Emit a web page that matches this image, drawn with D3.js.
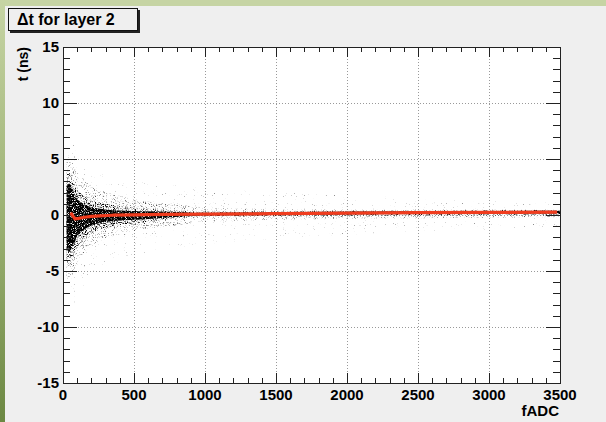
<!DOCTYPE html>
<html>
<head>
<meta charset="utf-8">
<script src="https://cdn.jsdelivr.net/npm/d3@7"></script>
<style>
  body { margin: 0; background: #efefef; }
  svg text { font-family: 'Liberation Sans', Arial, sans-serif; font-weight: bold; fill: #000; }
</style>
</head>
<body>
<svg width="606" height="422"></svg>
<script>
// x / y tick values
var xTicks = [0, 500, 1000, 1500, 2000, 2500, 3000, 3500]
var yTicks = [-15, -10, -5, 0, 5, 10, 15]

// envelope of the fADC vs dt cloud (ns)
var cloudX = [25, 40, 55, 70, 90, 120, 160, 220, 300, 400, 550, 750, 1000, 1400, 1900, 2500, 3000, 3500]
var haloHi = [8, 8, 7.5, 7, 6, 5, 4.5, 4, 3.5, 3.2, 3, 2.7, 2.4, 2.1, 1.8, 1.5, 1.3, 1.2]
var haloLo = [-9, -10, -9.5, -9, -8, -7, -6, -5, -4.5, -4, -3.5, -3, -2.6, -2.2, -1.8, -1.5, -1.3, -1.2]
var fuzzHi = [5, 5.2, 5, 4.5, 4, 3.5, 3, 2.5, 2.1, 1.7, 1.3, 1.0, 0.7, 0.55, 0.5, 0.5, 0.5, 0.5]
var fuzzLo = [-5.5, -6, -5.8, -5.2, -4.5, -3.8, -3.2, -2.6, -2.1, -1.7, -1.3, -1.0, -0.6, -0.45, -0.35, -0.3, -0.25, -0.2]
var midHi = [3.5, 3.8, 3.5, 3.0, 2.5, 2.0, 1.6, 1.25, 1.0, 0.8, 0.6, 0.45, 0.28, 0.31, 0.36, 0.41, 0.43, 0.45]
var midLo = [-4, -4.5, -4.3, -3.8, -3.1, -2.5, -2, -1.5, -1.15, -0.9, -0.7, -0.35, -0.12, -0.09, -0.04, 0.01, 0.03, 0.05]
var coreHi = [2.5, 2.8, 2.6, 2.2, 1.6, 1.2, 0.9, 0.65, 0.5, 0.4, 0.33, 0.3, 0.2, 0.23, 0.28, 0.33, 0.35, 0.37]
var coreLo = [-3, -3.3, -3.1, -2.7, -2.1, -1.6, -1.2, -0.85, -0.62, -0.48, -0.4, -0.2, -0.04, -0.01, 0.04, 0.09, 0.11, 0.13]

// fitted mean (red line)
var fitX = [54, 70, 85, 110, 150, 200, 260, 350, 500, 700, 1000, 1500, 2000, 2500, 3000, 3480]
var fitY = [0.2, -0.1, -0.35, -0.3, -0.2, -0.12, -0.07, -0.02, 0.02, 0.05, 0.08, 0.12, 0.17, 0.21, 0.23, 0.25]

var svg = d3.select('svg')
var padL = 63, padR = 560, padT = 47, padB = 383

var x = d3.scaleLinear().domain([0, 3500]).range([padL, padR])
var y = d3.scaleLinear().domain([-15, 15]).range([padB, padT])

// green page border
var defs = svg.append('defs')
var lg = defs.append('linearGradient').attr('id', 'edge').attr('x1', 0).attr('y1', 0).attr('x2', 0).attr('y2', 1)
lg.append('stop').attr('offset', '0%').attr('stop-color', '#c6d4a4')
lg.append('stop').attr('offset', '50%').attr('stop-color', '#9db274')
lg.append('stop').attr('offset', '100%').attr('stop-color', '#6c8843')
svg.append('rect').attr('width', 606).attr('height', 422).attr('fill', '#efefef')
svg.append('rect').attr('width', 606).attr('height', 6).attr('fill', '#c6d4a4')
svg.append('rect').attr('width', 5).attr('height', 422).attr('fill', 'url(#edge)')

// plot area
svg.append('rect')
  .attr('x', padL).attr('y', padT)
  .attr('width', padR - padL).attr('height', padB - padT)
  .attr('fill', '#fff')

// grid
var grid = svg.append('g').attr('stroke', '#999').attr('stroke-dasharray', '1,2').attr('stroke-width', 1)
grid.selectAll('.gx').data(xTicks.slice(1, -1)).enter().append('line')
  .attr('x1', function (d) { return Math.round(x(d)) + 0.5 }).attr('x2', function (d) { return Math.round(x(d)) + 0.5 })
  .attr('y1', padT).attr('y2', padB)
grid.selectAll('.gy').data(yTicks.slice(1, -1)).enter().append('line')
  .attr('y1', function (d) { return Math.round(y(d)) + 0.5 }).attr('y2', function (d) { return Math.round(y(d)) + 0.5 })
  .attr('x1', padL).attr('x2', padR)

// speckle filters so the cloud looks like scattered entries
var layers = [
  { id: 'halo', hi: haloHi, lo: haloLo, t: 0.7, k: 3.5, seed: 3 },
  { id: 'fuzz', hi: fuzzHi, lo: fuzzLo, t: 0.56, k: 3, seed: 7 },
  { id: 'mid', hi: midHi, lo: midLo, t: 0.5, k: 5, seed: 11 },
  { id: 'core', hi: coreHi, lo: coreLo, t: 0.35, k: 8, seed: 19 }
]
layers.forEach(function (l) {
  var f = defs.append('filter').attr('id', 'sp-' + l.id)
    .attr('filterUnits', 'userSpaceOnUse')
    .attr('x', padL).attr('y', padT).attr('width', padR - padL).attr('height', padB - padT)
  f.append('feTurbulence').attr('type', 'fractalNoise').attr('baseFrequency', 0.9)
    .attr('numOctaves', 1).attr('seed', l.seed).attr('result', 'n')
  f.append('feColorMatrix').attr('in', 'n').attr('type', 'matrix')
    .attr('values', '0 0 0 0 0  0 0 0 0 0  0 0 0 0 0  ' + l.k + ' 0 0 0 ' + (-l.k * l.t))
    .attr('result', 'm')
  f.append('feComposite').attr('in', 'm').attr('in2', 'SourceGraphic').attr('operator', 'in')
})

var cloud = svg.append('g')
layers.forEach(function (l) {
  var area = d3.area()
    .x(function (d, i) { return x(cloudX[i]) })
    .y0(function (d, i) { return y(l.lo[i]) })
    .y1(function (d, i) { return y(l.hi[i]) })
    .curve(d3.curveMonotoneX)
  cloud.append('path')
    .datum(cloudX)
    .attr('d', area)
    .attr('fill', '#000')
    .attr('filter', 'url(#sp-' + l.id + ')')
})

// frame
svg.append('rect')
  .attr('x', padL + 0.5).attr('y', padT + 0.5)
  .attr('width', padR - padL).attr('height', padB - padT)
  .attr('fill', 'none').attr('stroke', '#222')

// ticks
var ticks = svg.append('g').attr('stroke', '#222').attr('stroke-width', 1)
var xMinor = d3.range(0, 3501, 100)
ticks.selectAll('.tb').data(xMinor).enter().append('line')
  .attr('x1', function (d) { return Math.round(x(d)) + 0.5 }).attr('x2', function (d) { return Math.round(x(d)) + 0.5 })
  .attr('y1', padB).attr('y2', function (d) { return padB - (d % 500 === 0 ? 10 : 5) })
ticks.selectAll('.tt').data(xMinor).enter().append('line')
  .attr('x1', function (d) { return Math.round(x(d)) + 0.5 }).attr('x2', function (d) { return Math.round(x(d)) + 0.5 })
  .attr('y1', padT).attr('y2', function (d) { return padT + (d % 500 === 0 ? 10 : 5) })
var yMinor = d3.range(-15, 16, 1)
ticks.selectAll('.tl').data(yMinor).enter().append('line')
  .attr('y1', function (d) { return Math.round(y(d)) + 0.5 }).attr('y2', function (d) { return Math.round(y(d)) + 0.5 })
  .attr('x1', padL).attr('x2', function (d) { return padL + (d % 5 === 0 ? 14 : 7) })
ticks.selectAll('.tr').data(yMinor).enter().append('line')
  .attr('y1', function (d) { return Math.round(y(d)) + 0.5 }).attr('y2', function (d) { return Math.round(y(d)) + 0.5 })
  .attr('x1', padR).attr('x2', function (d) { return padR - (d % 5 === 0 ? 14 : 7) })

// tick labels
svg.append('g').selectAll('text').data(xTicks).enter().append('text')
  .attr('x', function (d) { return x(d) }).attr('y', 400)
  .attr('text-anchor', 'middle').attr('font-size', 15)
  .text(function (d) { return d })
svg.append('g').selectAll('text').data(yTicks).enter().append('text')
  .attr('x', 59).attr('y', function (d) { return y(d) + 5 })
  .attr('text-anchor', 'end').attr('font-size', 15)
  .text(function (d) { return d })

// axis titles
svg.append('text').attr('x', 559).attr('y', 416).attr('text-anchor', 'end')
  .attr('font-size', 15).text('fADC')
svg.append('text').attr('transform', 'translate(28,' + padT + ') rotate(-90)')
  .attr('text-anchor', 'end').attr('font-size', 14).text('t (ns)')

// title box
svg.append('rect').attr('x', 10).attr('y', 10).attr('width', 130).attr('height', 23).attr('fill', '#222')
svg.append('rect').attr('x', 8.5).attr('y', 8.5).attr('width', 129).attr('height', 22)
  .attr('fill', '#efefef').attr('stroke', '#111')
svg.append('text').attr('x', 17).attr('y', 25).attr('font-size', 16).text('\u0394t for layer 2')

// fit line, drawn last so it sits on top of everything
var line = d3.line()
  .x(function (d, i) { return x(fitX[i]) })
  .y(function (d, i) { return y(fitY[i]) })
svg.append('path').datum(fitX).attr('d', line)
  .attr('fill', 'none').attr('stroke', '#f03c1e').attr('stroke-width', 3.2)
  .attr('stroke-linejoin', 'round')
</script>
</body>
</html>
